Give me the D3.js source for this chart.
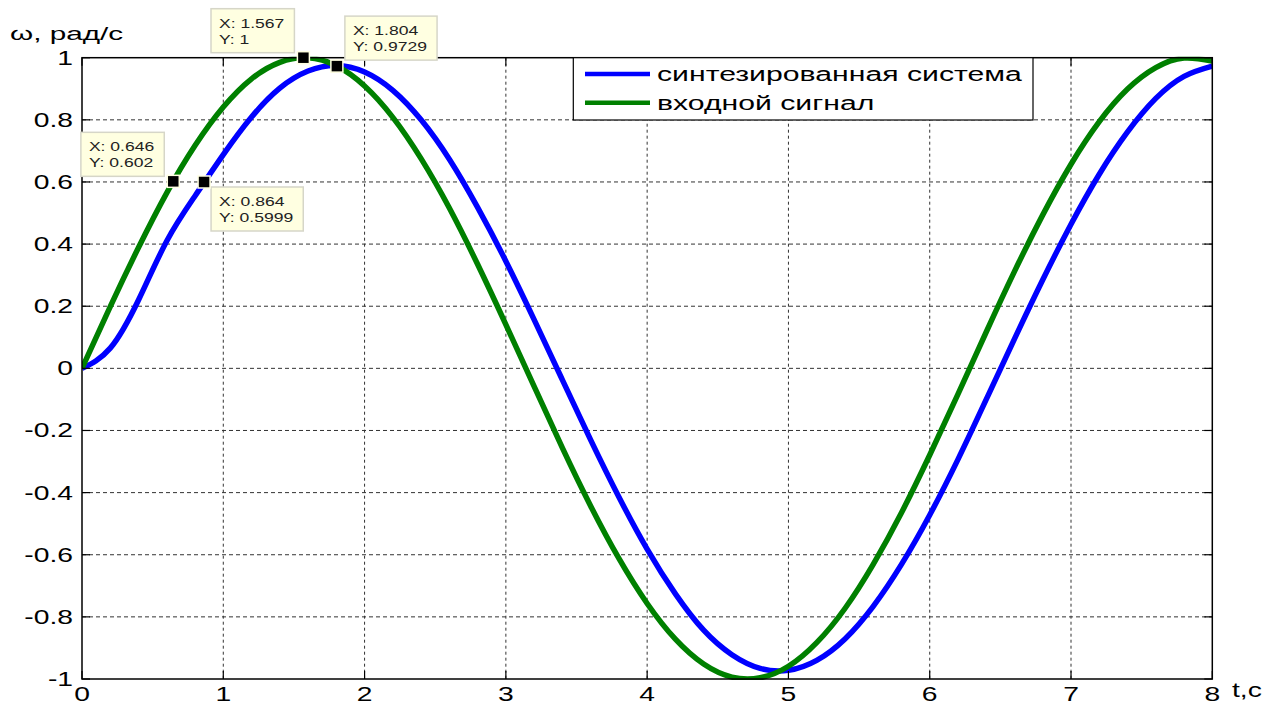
<!DOCTYPE html>
<html>
<head>
<meta charset="utf-8">
<script src="https://cdn.jsdelivr.net/npm/d3@7"></script>
<style>
  html, body { margin: 0; padding: 0; background: #fff; }
  svg { display: block; }
  text { font-family: "Liberation Sans", Arial, sans-serif; }
</style>
</head>
<body>
<svg id="chart" width="1273" height="704"></svg>
<script>
// Sample times, s
const time = [0, 0.2, 0.4, 0.6, 0.8, 1.0, 1.2, 1.4, 1.6, 1.8, 2.0, 2.2, 2.4, 2.6, 2.8, 3.0,
  3.2, 3.4, 3.6, 3.8, 4.0, 4.2, 4.4, 4.6, 4.8, 5.0, 5.2, 5.4, 5.6, 5.8, 6.0, 6.2, 6.4,
  6.6, 6.8, 7.0, 7.2, 7.4, 7.6, 7.8, 8.0];

// Output of the synthesized system, rad/s
const systemOut = [0, 0.065, 0.22, 0.41, 0.555, 0.688, 0.809, 0.902, 0.957, 0.975, 0.954,
  0.895, 0.800, 0.673, 0.518, 0.345, 0.157, -0.037, -0.230, -0.414, -0.582, -0.726,
  -0.843, -0.922, -0.966, -0.972, -0.940, -0.871, -0.766, -0.631, -0.472, -0.293,
  -0.100, 0.095, 0.285, 0.464, 0.625, 0.761, 0.869, 0.940, 0.973];

// Input signal, rad/s
const inputSignal = [0, 0.199, 0.389, 0.565, 0.717, 0.841, 0.932, 0.985, 1.000, 0.974,
  0.909, 0.808, 0.675, 0.516, 0.335, 0.141, -0.058, -0.256, -0.443, -0.612, -0.757,
  -0.872, -0.952, -0.994, -0.996, -0.959, -0.883, -0.773, -0.631, -0.465, -0.279,
  -0.083, 0.117, 0.312, 0.494, 0.657, 0.794, 0.899, 0.968, 0.999, 0.989];

const seriesNames = ["синтезированная система", "входной сигнал"];

const xTicks = [0, 1, 2, 3, 4, 5, 6, 7, 8];
const xTickLabels = ["0", "1", "2", "3", "4", "5", "6", "7", "8"];
const yTicks = [-1, -0.8, -0.6, -0.4, -0.2, 0, 0.2, 0.4, 0.6, 0.8, 1];
const yTickLabels = ["-1", "-0.8", "-0.6", "-0.4", "-0.2", "0", "0.2", "0.4", "0.6", "0.8", "1"];

// Data cursors
const tipX = [0.646, 1.567, 1.804, 0.864];
const tipY = [0.602, 1, 0.9729, 0.5999];
const tipXText = ["0.646", "1.567", "1.804", "0.864"];
const tipYText = ["0.602", "1", "0.9729", "0.5999"];
const tipSide = ["ul", "ul", "ur", "dr"];

const colors = ["#0000ff", "#008000"];

const svg = d3.select("#chart");
const plot = { left: 82, right: 1212.3, top: 57.7, bottom: 679 };
const x = d3.scaleLinear().domain([0, 8]).range([plot.left, plot.right]);
const y = d3.scaleLinear().domain([-1, 1]).range([plot.bottom, plot.top]);
const SX = 1.45; // horizontal text stretch

function stretchedText(parent, px, py, str, size, anchor, sx) {
  return parent.append("text")
    .attr("transform", `translate(${px},${py}) scale(${sx || SX},1)`)
    .attr("text-anchor", anchor || "start")
    .attr("font-size", size)
    .attr("fill", "#000")
    .text(str);
}

// Grid
const grid = svg.append("g");
grid.selectAll("line.gx").data(xTicks.slice(1, -1)).join("line")
  .attr("x1", d => x(d)).attr("x2", d => x(d))
  .attr("y1", plot.top).attr("y2", plot.bottom)
  .attr("stroke", "#333").attr("stroke-width", 1)
  .attr("stroke-dasharray", "3,3");
grid.selectAll("line.gy").data(yTicks.slice(1, -1)).join("line")
  .attr("x1", plot.left).attr("x2", plot.right)
  .attr("y1", d => y(d)).attr("y2", d => y(d))
  .attr("stroke", "#333").attr("stroke-width", 1)
  .attr("stroke-dasharray", "4,3");

// Curves
svg.append("defs").append("clipPath").attr("id", "clip")
  .append("rect").attr("x", plot.left).attr("y", plot.top - 1)
  .attr("width", plot.right - plot.left).attr("height", plot.bottom - plot.top + 2);

const line = d3.line().x((d, i) => x(time[i])).y(d => y(d)).curve(d3.curveNatural);
const curves = svg.append("g").attr("clip-path", "url(#clip)");
[systemOut, inputSignal].forEach((s, k) => {
  curves.append("path").datum(s).attr("d", line)
    .attr("fill", "none").attr("stroke", colors[k]).attr("stroke-width", 5.5)
    .attr("stroke-linejoin", "round");
});

// Axes box and ticks
const axes = svg.append("g");
axes.append("rect")
  .attr("x", plot.left).attr("y", plot.top)
  .attr("width", plot.right - plot.left).attr("height", plot.bottom - plot.top)
  .attr("fill", "none").attr("stroke", "#000").attr("stroke-width", 1.5);
const tl = 8;
xTicks.forEach(v => {
  axes.append("line").attr("x1", x(v)).attr("x2", x(v)).attr("y1", plot.bottom).attr("y2", plot.bottom - tl)
    .attr("stroke", "#000").attr("stroke-width", 1.2);
  axes.append("line").attr("x1", x(v)).attr("x2", x(v)).attr("y1", plot.top).attr("y2", plot.top + tl)
    .attr("stroke", "#000").attr("stroke-width", 1.2);
});
yTicks.forEach(v => {
  axes.append("line").attr("x1", plot.left).attr("x2", plot.left + tl).attr("y1", y(v)).attr("y2", y(v))
    .attr("stroke", "#000").attr("stroke-width", 1.2);
  axes.append("line").attr("x1", plot.right).attr("x2", plot.right - tl).attr("y1", y(v)).attr("y2", y(v))
    .attr("stroke", "#000").attr("stroke-width", 1.2);
});

// Tick labels
xTicks.forEach((v, i) => stretchedText(svg, x(v), 701, xTickLabels[i], 19.5, "middle"));
yTicks.forEach((v, i) => stretchedText(svg, 73, y(v) + 7, yTickLabels[i], 19.5, "end"));

// Axis labels
stretchedText(svg, 1232, 697, "t,c", 19.5, "start");
stretchedText(svg, 10, 40, "ω, рад/с", 18, "start", 1.65);

// Legend
const legend = svg.append("g");
legend.append("rect").attr("x", 573.3).attr("y", plot.top).attr("width", 1033 - 573.3).attr("height", 120 - plot.top)
  .attr("fill", "#fff").attr("stroke", "#000").attr("stroke-width", 1.2);
seriesNames.forEach((name, k) => {
  const ly = 74 + k * 28.7;
  legend.append("line").attr("x1", 585).attr("x2", 650).attr("y1", ly).attr("y2", ly)
    .attr("stroke", colors[k]).attr("stroke-width", 4.5);
  stretchedText(legend, 657, ly + 7, name, 20, "start", 1.51);
});

// Data cursor tips
const tips = svg.append("g");
const TSX = 1.35;
tipX.forEach((tx, i) => {
  const mx = x(tx), my = y(tipY[i]);
  const g = tips.append("g");
  const t1 = g.append("text").attr("font-size", 13).attr("fill", "#222").text("X: " + tipXText[i]);
  const t2 = g.append("text").attr("font-size", 13).attr("fill", "#222").text("Y: " + tipYText[i]);
  const w = Math.max(t1.node().getComputedTextLength(), t2.node().getComputedTextLength()) * TSX + 18;
  const h = 44;
  let bx, by;
  if (tipSide[i] === "ul") { bx = mx - 9 - w; by = my - 5 - h; }
  else if (tipSide[i] === "ur") { bx = mx + 8; by = my - 6 - h; }
  else { bx = mx + 7; by = my + 5; }
  g.insert("rect", "text").attr("x", bx).attr("y", by).attr("width", w).attr("height", h)
    .attr("fill", "#ffffe1").attr("stroke", "#d6d6c8").attr("stroke-width", 1.5);
  t1.attr("transform", `translate(${bx + 8},${by + 19}) scale(${TSX},1)`);
  t2.attr("transform", `translate(${bx + 8},${by + 35}) scale(${TSX},1)`);
  tips.append("rect").attr("x", mx - 6).attr("y", my - 6).attr("width", 12).attr("height", 12)
    .attr("fill", "#000").attr("stroke", "#ffffe1").attr("stroke-width", 1.5);
});
</script>
</body>
</html>
